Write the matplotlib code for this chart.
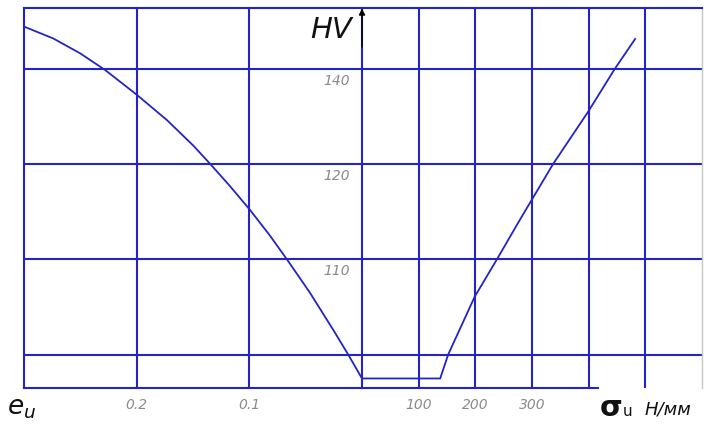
import numpy as np
import matplotlib.pyplot as plt
from matplotlib import transforms

# left half: hardness vs strain e_u (axis runs 0.3 -> 0)
strain = [0.3, 0.274, 0.2503, 0.2281, 0.2, 0.1733, 0.1497, 0.1349, 0.1172, 0.0994,
          0.0817, 0.0654, 0.0462, 0.0255, 0.0122, 0.0]
hv_strain = [148.9, 146.4, 143.3, 139.8, 134.6, 129.3, 123.9, 120.1, 117.7, 115.2,
             112.5, 109.8, 106.5, 102.6, 100.0, 97.5]

# right half: hardness vs stress sigma_u
stress = [0, 138, 152, 199, 238, 279, 337, 399, 446, 482]
hv_stress = [97.5, 97.5, 100.0, 106.1, 110.0, 114.2, 120.0, 131.0, 140.0, 146.3]

hv_grid = [100, 110, 120, 140]
hv_labels = ['', '110', '120', '140']
strain_ticks = [0.2, 0.1]
strain_labels = ['0.2', '0.1']
stress_ticks = [100, 200, 300, 400, 500]
stress_labels = ['100', '200', '300', '', '']

BLUE = '#2323c8'
GRAY = '#8a8a8a'

# the hardness axis is not linear: grid rows are equally spaced
knots_hv = [90, 100, 110, 120, 140, 160]
knots_pos = [-1, 0, 1, 2, 3, 4]


def fwd(v):
    return np.interp(v, knots_hv, knots_pos)


def inv(p):
    return np.interp(p, knots_pos, knots_hv)


W, H = 704, 425
fig = plt.figure(figsize=(W / 100, H / 100), dpi=100)
bottom = 1 - 388 / H
height = 380 / H
ax_l = fig.add_axes([24 / W, bottom, 338 / W, height])
ax_r = fig.add_axes([362 / W, bottom, 340 / W, height], sharey=ax_l)

for ax in (ax_l, ax_r):
    ax.set_yscale('function', functions=(fwd, inv))
    ax.set_yticks(hv_grid)
    ax.tick_params(length=0, labelleft=False, labelsize=10, labelcolor=GRAY, pad=7)
    ax.grid(True, color=BLUE, lw=1.5)
    for s in ax.spines.values():
        s.set_color(BLUE)
        s.set_linewidth(1.5)

ax_l.set_ylim(96.5, 152.8)
ax_l.set_xlim(0.3, 0)
ax_r.set_xlim(0, 600)

ax_l.set_xticks(strain_ticks, strain_labels, fontstyle='italic')
ax_r.set_xticks(stress_ticks, stress_labels, fontstyle='italic')
ax_l.spines['right'].set_visible(False)
ax_r.spines['bottom'].set_bounds(0, 416)
ax_r.spines['right'].set_color('#c8c8c8')
ax_r.spines['right'].set_linewidth(1)

ax_l.plot(strain, hv_strain, color=BLUE, lw=1.3)
ax_r.plot(stress, hv_stress, color=BLUE, lw=1.3)

# hardness labels sit just under their grid lines, left of the centre axis
tr = transforms.offset_copy(transforms.blended_transform_factory(ax_r.transAxes, ax_r.transData),
                            fig=fig, x=-12, y=-5, units='dots')
for v, lab in zip(hv_grid, hv_labels):
    ax_r.text(0, v, lab, transform=tr, ha='right', va='top', color=GRAY,
              fontsize=10, fontstyle='italic')

ax_r.annotate('', xy=(0, 1.006), xytext=(0, 0.89), xycoords='axes fraction',
              arrowprops=dict(arrowstyle='-|>', color='black', lw=1, mutation_scale=9),
              annotation_clip=False)

fig.text(331 / W, 1 - 30 / H, 'HV', ha='center', va='center', fontsize=21,
         fontstyle='italic', color='#111111')
fig.text(22 / W, 1 - 408 / H, r'$e_{u}$', ha='center', va='center', fontsize=19, color='#111111')
fig.text(611 / W, 1 - 408 / H, 'σ', ha='center', va='center', fontsize=21,
         fontweight='bold', color='#111111')
fig.text(623 / W, 1 - 411 / H, 'u', ha='left', va='center', fontsize=11, color='#111111')
fig.text(668 / W, 1 - 409 / H, 'Н/мм', ha='center', va='center', fontsize=13,
         fontstyle='italic', color='#111111')

fig.savefig('out.png', dpi=100, facecolor='white')
